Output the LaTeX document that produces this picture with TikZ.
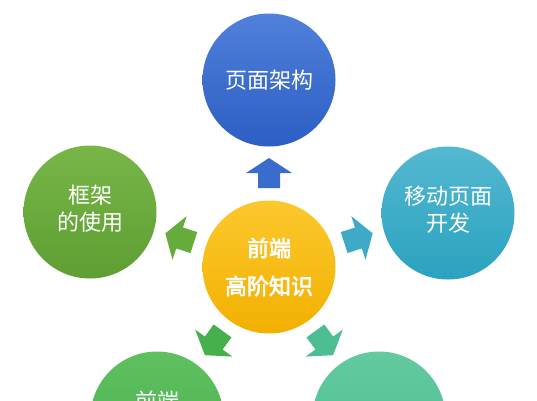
\documentclass[tikz,border=0pt]{standalone}
\usepackage{fontspec}
\setmainfont{Noto Sans CJK SC}
\newfontfamily\cjkmid[FakeBold=3]{Noto Sans CJK SC}
\usetikzlibrary{calc}
\definecolor{topA}{RGB}{80,128,218}
\definecolor{topB}{RGB}{44,94,196}
\definecolor{leftA}{RGB}{120,182,72}
\definecolor{leftB}{RGB}{94,158,50}
\definecolor{rightA}{RGB}{84,184,208}
\definecolor{rightB}{RGB}{42,162,192}
\definecolor{coreA}{RGB}{252,200,46}
\definecolor{coreB}{RGB}{242,176,0}
\definecolor{blA}{RGB}{96,192,96}
\definecolor{blB}{RGB}{70,176,78}
\definecolor{brA}{RGB}{100,202,160}
\definecolor{brB}{RGB}{72,186,142}
\definecolor{arTop}{RGB}{58,108,206}
\definecolor{arLeft}{RGB}{102,172,60}
\definecolor{arRight}{RGB}{62,170,200}
\definecolor{arBL}{RGB}{70,176,76}
\definecolor{arBR}{RGB}{76,190,146}
\newcommand\liftlines[2]{\raisebox{#1}{\begin{tabular}{@{}c@{}}#2\end{tabular}}}
\tikzset{
  bubble/.style={circle, minimum size=133pt, inner sep=0pt, align=center,
    text=white, font=\fontsize{22}{27}\selectfont},
  barrow/.pic={\fill[pic actions] (-15,-11) -- (0,-11) -- (0,-23) -- (15,0) -- (0,23) -- (0,11) -- (-15,11) -- cycle;}
}
\begin{document}
\begin{tikzpicture}[x=1pt,y=-1pt]
\useasboundingbox (0,0) rectangle (537,400);
\clip (0,0) rectangle (537,400);
\node[bubble, top color=coreA, bottom color=coreB, font=\fontsize{22}{38}\selectfont\cjkmid] (core) at (269,267) {前端\\高阶知识};
\node[bubble, top color=topA, bottom color=topB] (top) at (269,80) {\raisebox{2pt}{页面架构}};
\node[bubble, top color=leftA, bottom color=leftB] (left) at (90,212) {\liftlines{6pt}{框架\\的使用}};
\node[bubble, top color=rightA, bottom color=rightB] (right) at (448,213) {\liftlines{5pt}{移动页面\\开发}};
\node[bubble, top color=blA, bottom color=blB] (bl) at (157,418) {\liftlines{5pt}{前端\\\phantom{前端}}};
\node[bubble, top color=brA, bottom color=brB] (br) at (379,418) {};
\pic[rotate=90, fill=arTop] at ($(core.center)+(90:94pt)$) {barrow};
\pic[rotate=162, fill=arLeft] at ($(core.center)+(162:94pt)$) {barrow};
\pic[rotate=18, fill=arRight] at ($(core.center)+(18:94pt)$) {barrow};
\pic[rotate=234, fill=arBL] at ($(core.center)+(234:94pt)$) {barrow};
\pic[rotate=306, fill=arBR] at ($(core.center)+(306:94pt)$) {barrow};
\end{tikzpicture}
\end{document}
